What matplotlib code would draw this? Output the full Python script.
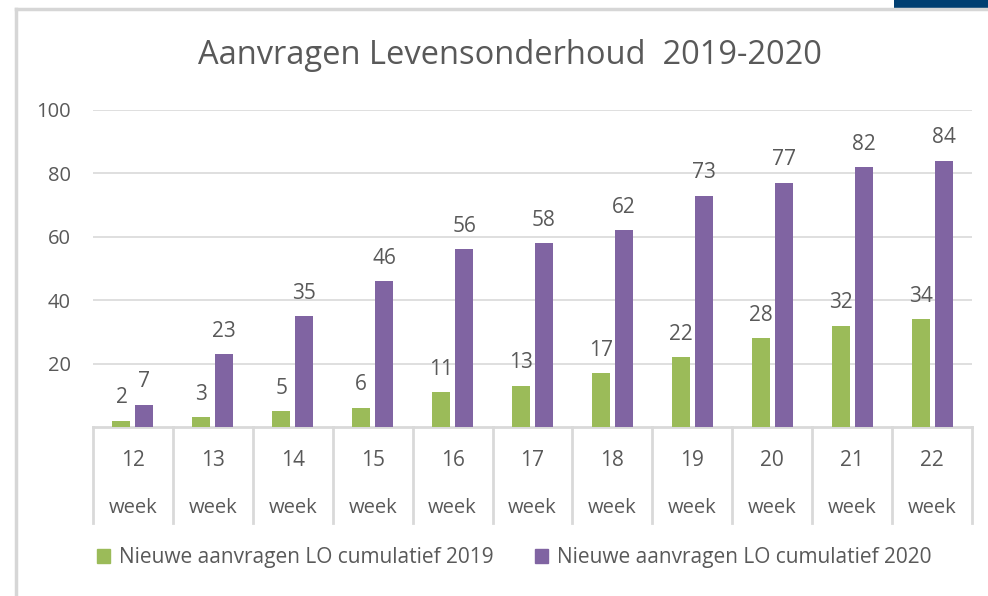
import numpy as np
import matplotlib.pyplot as plt
from matplotlib.patches import Rectangle
from matplotlib.lines import Line2D
import matplotlib.transforms as mtransforms

plt.rcParams['font.family'] = ['Open Sans', 'DejaVu Sans']

weeks = ['12', '13', '14', '15', '16', '17', '18', '19', '20', '21', '22']
lo_2019 = [2, 3, 5, 6, 11, 13, 17, 22, 28, 32, 34]
lo_2020 = [7, 23, 35, 46, 56, 58, 62, 73, 77, 82, 84]
series_names = ['Nieuwe aanvragen LO cumulatief 2019', 'Nieuwe aanvragen LO cumulatief 2020']

green = '#9BBB59'
purple = '#8064A2'
txt = '#595959'
grid = '#D9D9D9'

W, H = 988, 596
fig = plt.figure(figsize=(W / 100, H / 100), dpi=100)

# frame of the pasted chart
fig.add_artist(Line2D([16 / W, 1], [1 - 9 / H, 1 - 9 / H], color='#D6D6D6', lw=2.5))
fig.add_artist(Line2D([16 / W, 16 / W], [0, 1 - 9 / H], color='#D6D6D6', lw=2.5))
fig.add_artist(Rectangle((894 / W, 1 - 8 / H), 94 / W, 8 / H, color='#003F72', lw=0))

ax = fig.add_axes([93 / W, 169 / H, 879 / W, 317 / H])
x = np.arange(len(weeks))
bw = 0.225
off = 0.144
b1 = ax.bar(x - off, lo_2019, bw, color=green, zorder=3)
b2 = ax.bar(x + off, lo_2020, bw, color=purple, zorder=3)

for bars, vals in ((b1, lo_2019), (b2, lo_2020)):
    for r, v in zip(bars, vals):
        ax.annotate(str(v), (r.get_x() + r.get_width() / 2, v), xytext=(0, 9),
                    textcoords='offset points', ha='center', va='bottom',
                    fontsize=15, color=txt)

ax.set_xlim(-0.5, len(weeks) - 0.5)
ax.set_ylim(0, 100)
ax.set_yticks([20, 40, 60, 80, 100])
ax.tick_params(axis='y', length=0, pad=16, labelsize=14.5, labelcolor=txt)
ax.set_xticks([])
for v in [20, 40, 60, 80, 100]:
    ax.axhline(v, color=grid, lw=1.2, zorder=1)
for s in ['top', 'right', 'left']:
    ax.spines[s].set_visible(False)
ax.spines['bottom'].set_color(grid)
ax.spines['bottom'].set_linewidth(2)

# multi-level category axis
tr = mtransforms.blended_transform_factory(ax.transData, ax.transAxes)
for i in range(len(weeks) + 1):
    ax.add_line(Line2D([i - 0.5, i - 0.5], [0, -0.303], transform=tr, color=grid,
                       lw=2, clip_on=False))
for i, w in enumerate(weeks):
    ax.text(i, -0.107, w, transform=tr, ha='center', va='center', fontsize=15, color=txt)
    ax.text(i, -0.255, 'week', transform=tr, ha='center', va='center', fontsize=14.5, color=txt)

fig.text(510 / W, 1 - 55 / H, 'Aanvragen Levensonderhoud  2019-2020', ha='center',
         va='center', fontsize=23.5, color=txt)

handles = [Rectangle((0, 0), 1, 1, color=green), Rectangle((0, 0), 1, 1, color=purple)]
fig.legend(handles, series_names, loc='center', bbox_to_anchor=(514 / W, 38 / H), ncol=2,
           frameon=False, fontsize=15, labelcolor=txt, handlelength=0.65, handleheight=0.65,
           handletextpad=0.4, columnspacing=2.0)

fig.savefig('out.png', dpi=100)
